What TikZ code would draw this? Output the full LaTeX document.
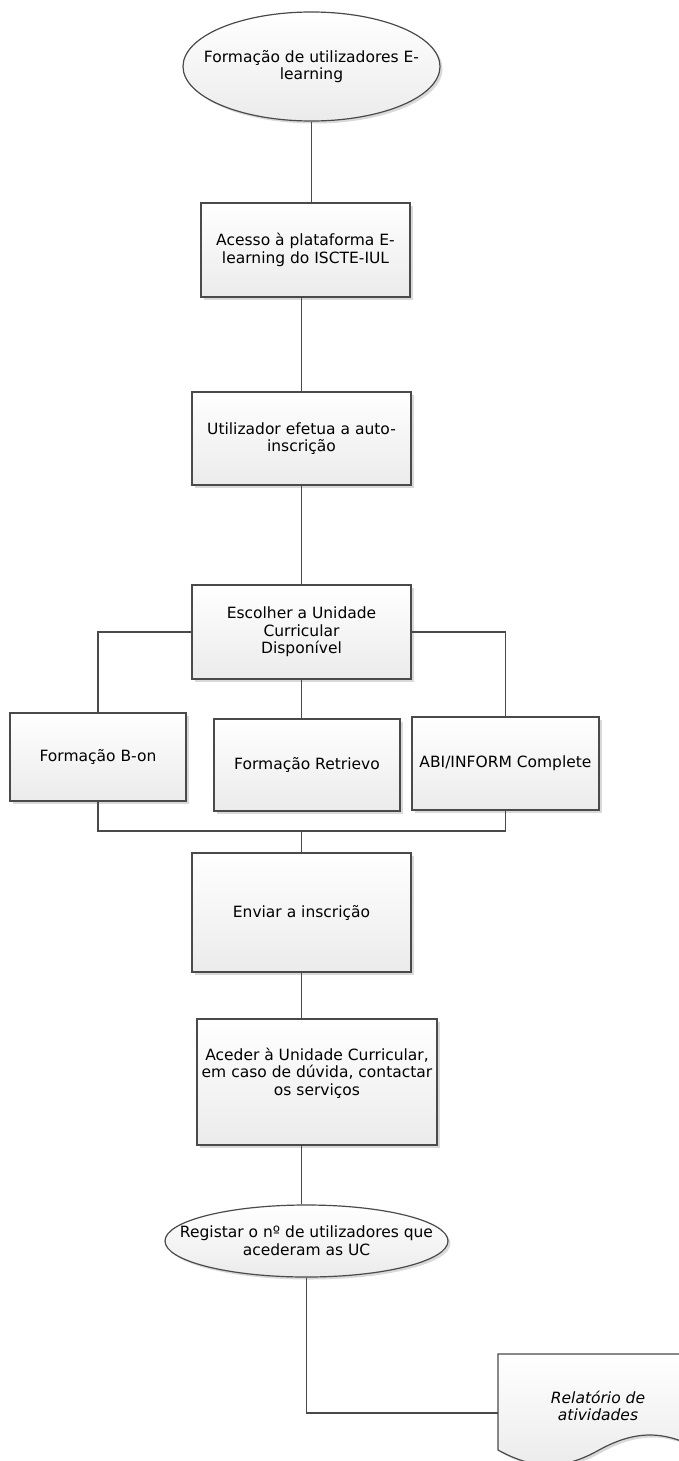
\documentclass[tikz,border=0pt]{standalone}
\usepackage{fontspec}
\setmainfont{DejaVu Sans}
\usetikzlibrary{shapes.geometric,shadows}
\definecolor{lc}{HTML}{4A4A4A}
\definecolor{fillbot}{HTML}{EBEBEB}
\begin{document}
\begin{tikzpicture}[x=1pt,y=1pt,
  txt/.style={font=\fontsize{15.5}{17.7}\selectfont, align=center, inner sep=0pt},
  gfill/.style={top color=white, bottom color=fillbot},
  shad/.style={drop shadow={shadow xshift=2.5pt,shadow yshift=-2.5pt,opacity=0.15,fill=black}},
  box/.style={rectangle, draw=lc, line width=1.2pt, gfill, shad, txt},
  ell/.style={ellipse, draw=lc, line width=1.2pt, gfill, shad, inner sep=0pt},
  conn/.style={draw=lc, line width=1.3pt},
]
\useasboundingbox (0,0) rectangle (679,-1461);
\clip (0,0) rectangle (679,-1461);

% nodes
\node[ell, minimum width=257, minimum height=109] (e1) at (311.5,-66.5) {};
\node[txt] (e1t) at (311.5,-66.5) {Formação de utilizadores E-\\learning};
\node[box, minimum width=209, minimum height=94] (a) at (305.5,-250) {Acesso à plataforma E-\\learning do ISCTE-IUL};
\node[box, minimum width=219, minimum height=93] (b) at (301.5,-438.5) {Utilizador efetua a auto-\\inscrição};
\node[box, minimum width=219, minimum height=94] (c) at (301.5,-632) {Escolher a Unidade\\Curricular\\Disponível};
\node[box, minimum width=176, minimum height=88] (bon) at (98,-757) {Formação B-on};
\node[box, minimum width=186, minimum height=92] (ret) at (307,-765) {Formação Retrievo};
\node[box, minimum width=187, minimum height=93] (abi) at (505.5,-763.5) {ABI/INFORM Complete};
\node[box, minimum width=219, minimum height=119] (env) at (301.5,-912.5) {Enviar a inscrição};
\node[box, minimum width=240, minimum height=126] (ace) at (317,-1082) {};
\node[txt] (acet) at (317,-1073) {Aceder à Unidade Curricular,\\em caso de dúvida, contactar\\os serviços};
\node[ell, minimum width=283, minimum height=72] (e2) at (306.5,-1241) {};
\node[txt] (e2t) at (306.5,-1241) {Registar o nº de utilizadores que\\acederam as UC};

% document shape
\path[draw=lc, line width=1.2pt, gfill, shad] (498,-1354) -- (700,-1354) -- (700,-1450)
  .. controls (664.6,-1430) and (635.4,-1430) .. (599,-1450)
  .. controls (563.6,-1470) and (534.4,-1470) .. (498,-1450) -- cycle;
\node[txt, font=\fontsize{15.5}{17.7}\selectfont\itshape] (doct) at (598,-1406) {Relatório de\\atividades};
\coordinate (docin) at (498,-1413);
\coordinate (jn) at (301.5,-831);

% connectors
\draw[conn] (e1.south) -- (e1.south |- a.north);
\draw[conn] (a.south -| b.north) -- (b.north);
\draw[conn] (b.south) -- (c.north);
\draw[conn] (c.south) -- (c.south |- ret.north);
\draw[conn] (c.west) -| (bon.north);
\draw[conn] (c.east) -| (abi.north);
\draw[conn] (bon.south) |- (jn) -| (abi.south);
\draw[conn] (jn) -- (env.north);
\draw[conn] (env.south) -- (env.south |- ace.north);
\draw[conn] (env.south |- ace.south) -- (env.south |- e2.north);
\draw[conn] (e2.south) |- (docin);
\end{tikzpicture}
\end{document}
